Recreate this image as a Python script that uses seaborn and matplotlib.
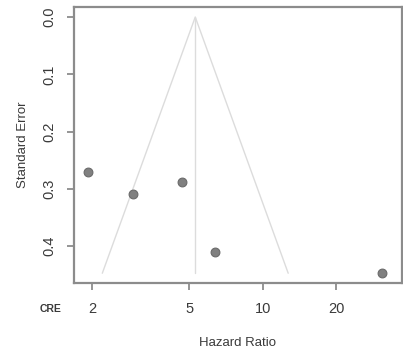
import numpy as np
import pandas as pd
import matplotlib
matplotlib.use("Agg")
import matplotlib.pyplot as plt
import seaborn as sns

# Data
hazard_ratio = [1.93, 2.94, 4.68, 6.41, 30.8]
std_error = [0.270, 0.309, 0.288, 0.410, 0.447]
pooled_hr = 5.3
x_ticks = [2, 5, 10, 20]
x_tick_labels = ["2", "5", "10", "20"]
y_ticks = [0.0, 0.1, 0.2, 0.3, 0.4]
y_tick_labels = ["0.0", "0.1", "0.2", "0.3", "0.4"]

sns.set_style("white")
plt.rcParams['font.family'] = ['Liberation Sans', 'DejaVu Sans']

fig = plt.figure(figsize=(4.03, 3.63), dpi=100)
ax = fig.add_axes([0.1836, 0.2204, 0.8139, 0.7603])

df = pd.DataFrame({"hr": hazard_ratio, "se": std_error})

# Funnel lines
se_max = max(std_error)
lo = np.exp(np.log(pooled_hr) - 1.96 * se_max)
hi = np.exp(np.log(pooled_hr) + 1.96 * se_max)
funnel = pd.DataFrame({
    "hr": [lo, pooled_hr, hi],
    "se": [se_max, 0.0, se_max],
})
ax.plot(funnel["hr"], funnel["se"], color="#dcdcdc", lw=1.0, zorder=1)
ax.plot([pooled_hr, pooled_hr], [0.0, se_max], color="#dcdcdc", lw=1.0, zorder=1)

sns.scatterplot(data=df, x="hr", y="se", ax=ax, s=40, color="#808080",
                edgecolor="#6a6a6a", linewidth=0.8, zorder=3)

ax.set_xscale("log")
ax.set_xlim(1.69, 37.2)
ax.set_ylim(0.464, -0.0175)
ax.set_xticks(x_ticks)
ax.set_xticklabels(x_tick_labels)
ax.xaxis.set_minor_locator(matplotlib.ticker.NullLocator())
ax.set_yticks(y_ticks)
ax.set_yticklabels(y_tick_labels, rotation=90, va="center")

for s in ax.spines.values():
    s.set_color("#8c8c8c")
    s.set_linewidth(1.6)
    s.set_visible(True)

ax.tick_params(axis="both", which="major", direction="out", length=5,
               width=1.3, color="#8c8c8c", labelcolor="#3a3a3a", labelsize=10.5,
               bottom=True, left=True)
ax.tick_params(axis="x", pad=8.5)
ax.tick_params(axis="y", pad=7.5)

ax.set_xlabel("Hazard Ratio", fontsize=9.5, color="#3a3a3a", labelpad=15)
ax.set_ylabel("Standard Error", fontsize=9.5, color="#3a3a3a", labelpad=9.5)

fig.text(51 / 403, 1 - 309 / 363, "CRE", fontsize=7.5, fontweight="bold",
         color="#3a3a3a", ha="center", va="center")

fig.savefig("out.png", dpi=100)
